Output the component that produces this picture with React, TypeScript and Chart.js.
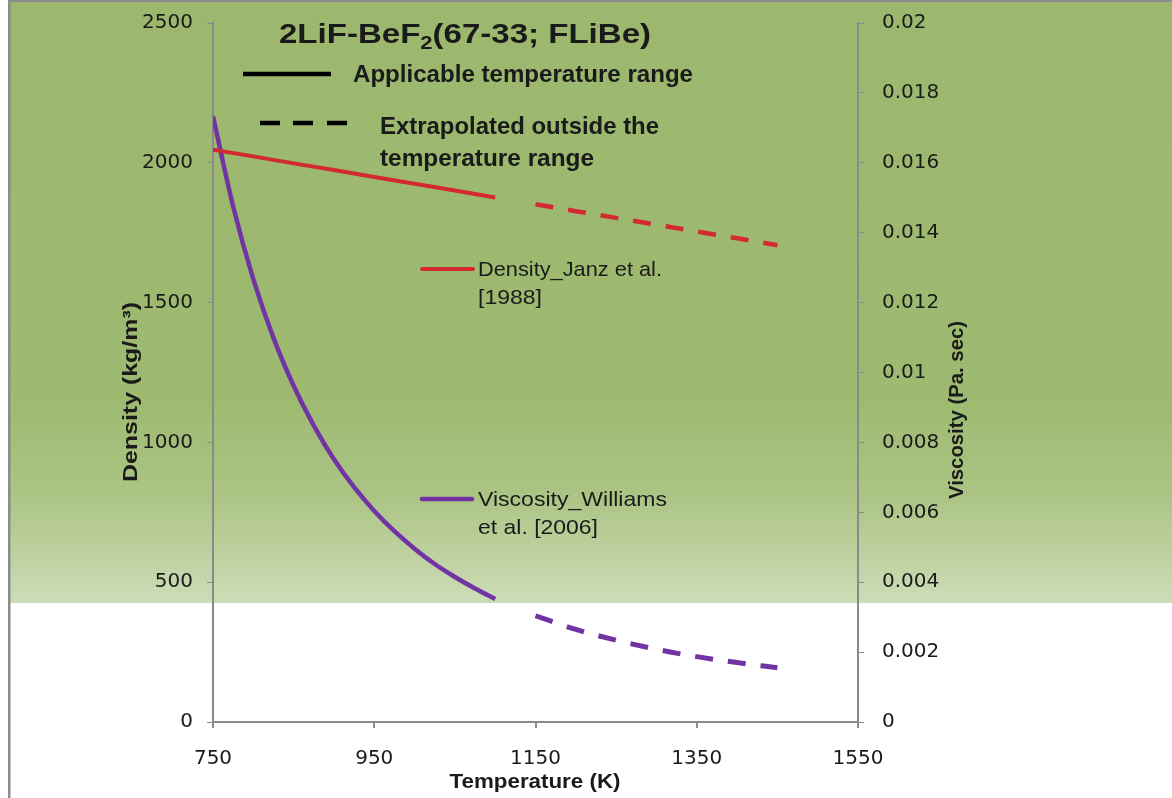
import React, { useEffect, useRef } from "react";
import { Chart, registerables } from "chart.js";

Chart.register(...registerables);

const W = 1172;
const H = 798;

// Density (kg/m3), Janz et al. [1988]
const densityTempsSolid = [750, 800, 850, 900, 950, 1000, 1050, 1100];
const densitySolid = [2047, 2023, 1998, 1974, 1949, 1925, 1901, 1876];
const densityTempsDashed = [1150, 1200, 1250, 1300, 1350, 1400, 1450];
const densityDashed = [1852, 1827, 1803, 1779, 1754, 1730, 1705];

// Viscosity (Pa.s), Williams et al. [2006]
const viscTempsSolid = [750, 775, 800, 825, 850, 875, 900, 925, 950, 975, 1000, 1025, 1050, 1075, 1100];
const viscSolid = [0.01733, 0.01475, 0.01267, 0.01099, 0.00962, 0.00848, 0.00752, 0.00672, 0.00604, 0.00546, 0.00496, 0.00452, 0.00415, 0.00382, 0.00352];
const viscTempsDashed = [1150, 1200, 1250, 1300, 1350, 1400, 1450];
const viscDashed = [0.00304, 0.00265, 0.00234, 0.00208, 0.00187, 0.0017, 0.00155];

const xTickValues = [750, 950, 1150, 1350, 1550];

const RED = "#D22A30";
const PURPLE = "#7234A4";
const AXIS = "#8a8a8a";
const TEXT = "#1a1a1a";
const TICK_FONT = { family: "'DejaVu Sans', sans-serif", size: 20 };

function pts(xs: number[], ys: number[]) {
  return xs.map((x, i) => ({ x, y: ys[i] }));
}

function fitText(
  ctx: CanvasRenderingContext2D,
  text: string,
  x: number,
  y: number,
  width: number,
  font: string,
  align: "left" | "center" = "left",
  rotate = 0
) {
  ctx.save();
  ctx.font = font;
  const w = ctx.measureText(text).width;
  const s = width / w;
  ctx.translate(x, y);
  if (rotate) ctx.rotate(rotate);
  ctx.scale(s, 1);
  ctx.textAlign = "left";
  ctx.textBaseline = "middle";
  ctx.fillStyle = TEXT;
  ctx.fillText(text, align === "center" ? -w / 2 : 0, 0);
  ctx.restore();
}

const decorPlugin = {
  id: "decor",
  beforeDraw(chart: any) {
    const ctx: CanvasRenderingContext2D = chart.ctx;
    ctx.save();
    ctx.fillStyle = "#ffffff";
    ctx.fillRect(0, 0, W, H);
    const g = ctx.createLinearGradient(0, 3, 0, 603);
    g.addColorStop(0, "#9BB86E");
    g.addColorStop(0.66, "#9DBA70");
    g.addColorStop(0.82, "#ABC484");
    g.addColorStop(1, "#CDDCB7");
    ctx.fillStyle = g;
    ctx.fillRect(9, 2, W - 9, 601);
    ctx.fillStyle = "#8c8c8c";
    ctx.fillRect(9, 0, W - 9, 2);
    ctx.fillRect(8, 0, 2.5, H);
    ctx.restore();
  },
  afterDraw(chart: any) {
    const ctx: CanvasRenderingContext2D = chart.ctx;
    // Title with subscript
    ctx.save();
    const big = "bold 27px 'Liberation Sans', Arial, sans-serif";
    const small = "bold 18px 'Liberation Sans', Arial, sans-serif";
    const p1 = "2LiF-BeF";
    const p2 = "2";
    const p3 = "(67-33; FLiBe)";
    ctx.font = big;
    const w1 = ctx.measureText(p1).width;
    const w3 = ctx.measureText(p3).width;
    ctx.font = small;
    const w2 = ctx.measureText(p2).width;
    const total = w1 + w2 + w3;
    const s = 372 / total;
    ctx.translate(279, 43);
    ctx.scale(s, 1);
    ctx.fillStyle = TEXT;
    ctx.textBaseline = "alphabetic";
    ctx.font = big;
    ctx.fillText(p1, 0, 0);
    ctx.font = small;
    ctx.fillText(p2, w1, 6);
    ctx.font = big;
    ctx.fillText(p3, w1 + w2, 0);
    ctx.restore();

    // Line-style legend
    ctx.save();
    ctx.strokeStyle = "#000";
    ctx.lineWidth = 4.5;
    ctx.beginPath();
    ctx.moveTo(243, 74);
    ctx.lineTo(331, 74);
    ctx.stroke();
    [260, 293, 327].forEach((x0) => {
      ctx.beginPath();
      ctx.moveTo(x0, 123);
      ctx.lineTo(x0 + 20, 123);
      ctx.stroke();
    });
    ctx.restore();
    const boldLeg = "bold 24px 'Liberation Sans', Arial, sans-serif";
    fitText(ctx, "Applicable temperature range", 353, 75, 340, boldLeg);
    fitText(ctx, "Extrapolated outside the", 380, 127, 279, boldLeg);
    fitText(ctx, "temperature range", 380, 159, 214, boldLeg);

    // Series legend
    ctx.save();
    ctx.lineWidth = 4;
    ctx.lineCap = "round";
    ctx.strokeStyle = RED;
    ctx.beginPath();
    ctx.moveTo(422, 269);
    ctx.lineTo(473, 269);
    ctx.stroke();
    ctx.strokeStyle = PURPLE;
    ctx.lineWidth = 4.5;
    ctx.beginPath();
    ctx.moveTo(422, 499);
    ctx.lineTo(472, 499);
    ctx.stroke();
    ctx.restore();
    const reg = "21px 'Liberation Sans', Arial, sans-serif";
    fitText(ctx, "Density_Janz et al.", 478, 270, 184, reg);
    fitText(ctx, "[1988]", 478, 298, 64, reg);
    fitText(ctx, "Viscosity_Williams", 478, 500, 189, reg);
    fitText(ctx, "et al. [2006]", 478, 528, 120, reg);

    // Axis titles
    const axisFont = "bold 20px 'Liberation Sans', Arial, sans-serif";
    fitText(ctx, "Density (kg/m³)", 131, 392, 180, axisFont, "center", -Math.PI / 2);
    fitText(ctx, "Viscosity (Pa. sec)", 957, 410, 178, axisFont, "center", -Math.PI / 2);
    fitText(ctx, "Temperature (K)", 535, 782, 171, axisFont, "center");
  },
};

export default function App() {
  const ref = useRef<HTMLCanvasElement | null>(null);
  useEffect(() => {
    if (!ref.current) return;
    const fmtV = (v: any) => String(parseFloat(Number(v).toFixed(3)));
    const chart = new Chart(ref.current, {
      type: "line",
      data: {
        datasets: [
          {
            label: "Density_Janz et al. [1988]",
            data: pts(densityTempsSolid, densitySolid),
            borderColor: RED,
            borderWidth: 4,
            pointRadius: 0,
            yAxisID: "y",
          },
          {
            label: "Density extrapolated",
            data: pts(densityTempsDashed, densityDashed),
            borderColor: RED,
            borderWidth: 4.5,
            borderDash: [18, 15],
            pointRadius: 0,
            yAxisID: "y",
          },
          {
            label: "Viscosity_Williams et al. [2006]",
            data: pts(viscTempsSolid, viscSolid),
            borderColor: PURPLE,
            borderWidth: 4.5,
            pointRadius: 0,
            cubicInterpolationMode: "monotone",
            yAxisID: "y1",
          },
          {
            label: "Viscosity extrapolated",
            data: pts(viscTempsDashed, viscDashed),
            borderColor: PURPLE,
            borderWidth: 5,
            borderDash: [18, 15],
            pointRadius: 0,
            cubicInterpolationMode: "monotone",
            yAxisID: "y1",
          },
        ],
      },
      options: {
        animation: false,
        responsive: false,
        maintainAspectRatio: false,
        layout: { padding: { top: 23, left: 0, right: 0, bottom: 0 } },
        plugins: { legend: { display: false }, tooltip: { enabled: false }, title: { display: false } },
        scales: {
          x: {
            type: "linear",
            min: 750,
            max: 1550,
            afterBuildTicks: (s: any) => {
              s.ticks = xTickValues.map((v) => ({ value: v }));
            },
            afterFit: (s: any) => {
              s.height = 76;
              s.paddingLeft = 0;
              s.paddingRight = 0;
            },
            ticks: {
              autoSkip: false,
              maxRotation: 0,
              padding: 19,
              color: TEXT,
              font: TICK_FONT,
              callback: (v: any) => String(v),
            },
            grid: { drawOnChartArea: false, drawTicks: true, tickLength: 6, color: AXIS, lineWidth: 2 },
            border: { display: true, color: AXIS, width: 2 },
          },
          y: {
            position: "left",
            min: 0,
            max: 2500,
            afterFit: (s: any) => {
              s.width = 213;
              s.paddingTop = 0;
              s.paddingBottom = 0;
            },
            ticks: { stepSize: 500, padding: 14, color: TEXT, font: TICK_FONT, callback: (v: any) => String(v) },
            grid: { drawOnChartArea: false, drawTicks: true, tickLength: 6, color: AXIS, lineWidth: 1 },
            border: { display: true, color: AXIS, width: 2 },
          },
          y1: {
            position: "right",
            min: 0,
            max: 0.02,
            afterFit: (s: any) => {
              s.width = 314;
              s.paddingTop = 0;
              s.paddingBottom = 0;
            },
            ticks: { stepSize: 0.002, padding: 18, color: TEXT, font: TICK_FONT, callback: fmtV },
            grid: { drawOnChartArea: false, drawTicks: true, tickLength: 6, color: AXIS, lineWidth: 1 },
            border: { display: true, color: AXIS, width: 2 },
          },
        },
      },
      plugins: [decorPlugin],
    } as any);
    return () => chart.destroy();
  }, []);
  return (
    <div style={{ position: "absolute", left: 0, top: 0, width: W, height: H }}>
      <canvas ref={ref} width={W} height={H} style={{ width: W, height: H, display: "block" }} />
    </div>
  );
}
